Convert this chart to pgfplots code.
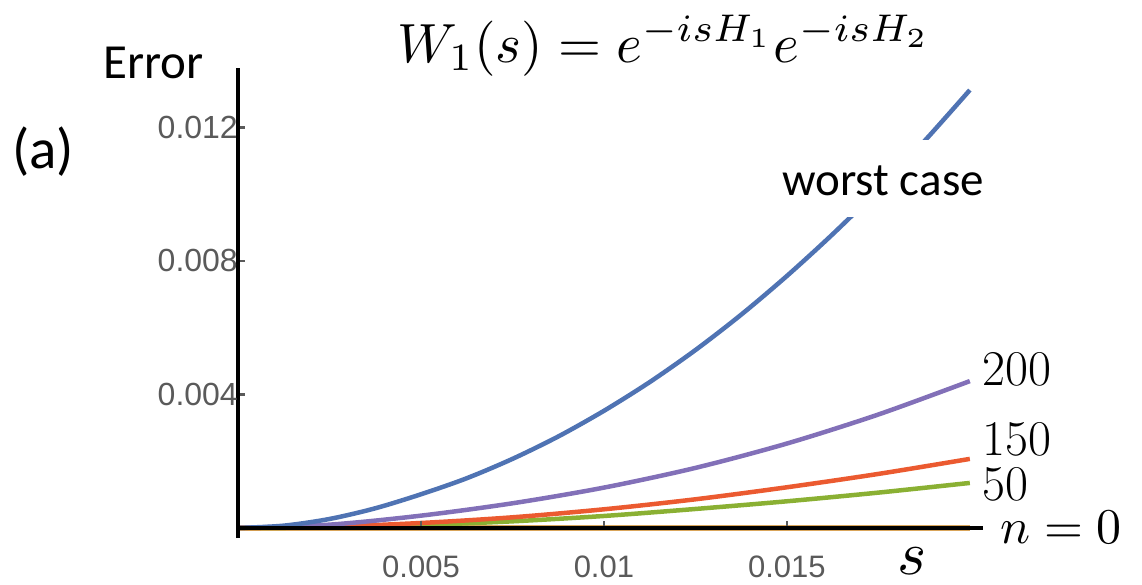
\documentclass[border=0pt]{standalone}
\usepackage{fontspec}
\usepackage{pgfplots}
\usepackage{pgfplotstable}
\pgfplotsset{compat=1.18}
\newfontfamily\carlito{Carlito}
\newfontfamily\arial{Liberation Sans}
\newcommand\tk{\arial\fontsize{32}{32}\selectfont}
\definecolor{cblue}{HTML}{4F73B3}
\definecolor{cpurple}{HTML}{8270B8}
\definecolor{cred}{HTML}{EB5A30}
\definecolor{cgreen}{HTML}{8AB033}
\definecolor{corange}{HTML}{D9A55A}
\definecolor{tickgray}{HTML}{5A5A5A}

\pgfplotstableread{
s blue
0 0
0.00125 0.00007
0.0025 0.00027
0.00375 0.00059
0.005 0.00101
0.00625 0.00149
0.0075 0.00207
0.00875 0.00274
0.01 0.00351
0.01125 0.00437
0.0125 0.00533
0.01375 0.00639
0.015 0.00755
0.01625 0.00880
0.0175 0.01014
0.01875 0.01158
0.02 0.01312
}\bluedata

\pgfplotstableread{
s purple red green
0 0 0 0
0.0025 0.00010 0.00004 0.00002
0.005 0.00037 0.00015 0.00009
0.0075 0.00074 0.00032 0.00020
0.01 0.00121 0.00056 0.00036
0.0125 0.00180 0.00086 0.00057
0.015 0.00253 0.00122 0.00080
0.0175 0.00340 0.00162 0.00106
0.02 0.00440 0.00207 0.00135
}\data

\begin{document}
\begin{tikzpicture}
\path[use as bounding box] (0pt,-584pt) rectangle (1142pt,0pt);
\begin{axis}[
  at={(238pt,-538pt)}, anchor=south west,
  scale only axis, width=745pt, height=470pt,
  xmin=0, xmax=0.02036, ymin=-0.0003, ymax=0.01378,
  axis lines=middle,
  axis line style={-, line width=4pt, black},
  axis on top,
  clip=false,
  scaled x ticks=false, scaled y ticks=false,
  xtick={0.005,0.01,0.015}, xticklabels={0.005,0.01,0.015},
  ytick={0.004,0.008,0.012}, yticklabels={{\tk 0.004},{\tk 0.008},{\tk 0.012}},
  tick align=inside, major tick length=7pt,
  tick style={line width=2.5pt, color=tickgray},
  xticklabel style={font=\arial\fontsize{31}{31}\selectfont, text=tickgray, anchor=north, inner sep=0pt, yshift=-28pt},
  yticklabel style={font=\tk, text=tickgray, anchor=east, inner sep=0pt, xshift=0pt},
  every axis plot/.append style={line width=4.5pt, smooth},
]
\addplot[corange, line width=5.5pt] coordinates {(0,0) (0.02,0)};
\addplot[cgreen] table[x=s,y=green]{\data};
\addplot[cred] table[x=s,y=red]{\data};
\addplot[cpurple] table[x=s,y=purple]{\data};
\addplot[cblue] table[x=s,y=blue]{\bluedata};
\end{axis}
\node[anchor=base west, inner sep=0pt] at (397pt,-62pt) {\scalebox{5.52}{$W_1(s) = e^{-isH_1}e^{-isH_2}$}};
\node[anchor=base west, inner sep=0pt, font=\carlito\fontsize{49}{49}\selectfont] at (103pt,-78pt) {Error};
\node[anchor=base west, inner sep=0pt, font=\carlito\fontsize{57}{57}\selectfont] at (12pt,-168pt) {(a)};
\node[anchor=base west, fill=white, inner xsep=4pt, inner ysep=0pt, text height=55pt, text depth=22pt, font=\carlito\fontsize{47}{47}\selectfont] at (778pt,-195pt) {worst case};
\node[anchor=base west, inner sep=0pt, font=\fontsize{50}{50}\selectfont] at (982pt,-385pt) {200};
\node[anchor=base west, inner sep=0pt, font=\fontsize{50}{50}\selectfont] at (982pt,-455pt) {150};
\node[anchor=base west, inner sep=0pt, font=\fontsize{50}{50}\selectfont] at (982pt,-500pt) {50};
\node[anchor=base west, inner sep=0pt] at (1000pt,-543pt) {\scalebox{5}{$n=0$}};
\node[anchor=base west, inner sep=0pt] at (897pt,-574pt) {\scalebox{6.2}{$s$}};
\end{tikzpicture}
\end{document}
